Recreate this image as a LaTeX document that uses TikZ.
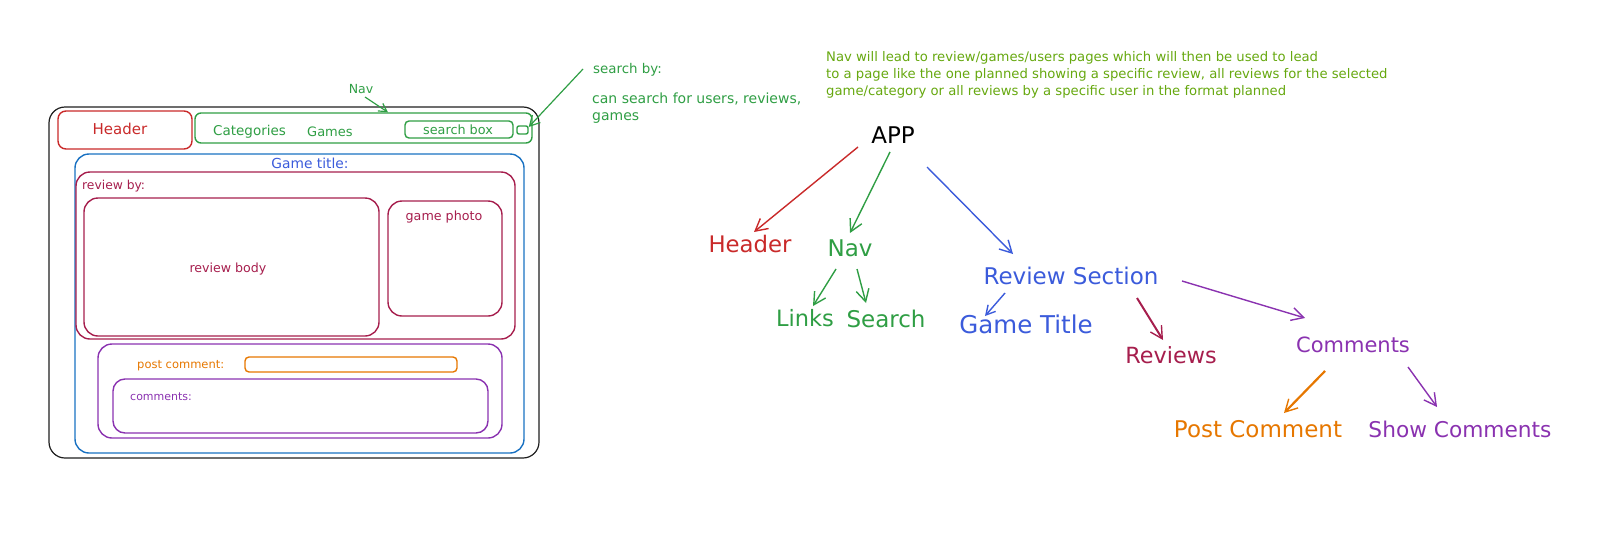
\documentclass[tikz,border=0pt]{standalone}
\usepackage{fontspec}
\setmainfont{DejaVu Sans}
\usetikzlibrary{arrows.meta,calc}
\definecolor{xred}{HTML}{C92A2A}
\definecolor{xgreen}{HTML}{2F9E44}
\definecolor{xlime}{HTML}{66A80F}
\definecolor{xblue}{HTML}{1971C2}
\definecolor{xindigo}{HTML}{3B5BDB}
\definecolor{xcrimson}{HTML}{A61E4D}
\definecolor{xpurple}{HTML}{8A32B0}
\definecolor{xorange}{HTML}{E67700}
\definecolor{xdark}{HTML}{1E1E1E}
\tikzset{
  wbox/.style={draw=#1, line width=1.4pt, inner sep=0pt, rounded corners=13pt},
  lbl/.style={inner sep=0pt, anchor=base, text=#1},
  lblw/.style={inner sep=0pt, anchor=base west, text=#1},
  arr/.style={draw=#1, line width=1.4pt, -{Straight Barb[length=12pt,width=13pt,line width=1.4pt]}},
  fs/.style={font=\fontsize{#1}{#1}\selectfont}
}
\begin{document}
\begin{tikzpicture}[x=1pt,y=-1pt]
\useasboundingbox (0,0) rectangle (1605,533);
% ---------- wireframe ----------
\node[wbox=xdark, line width=1.2pt, rounded corners=16pt, minimum width=490, minimum height=351] (outer) at (294,282.5) {};
\node[wbox=xred, rounded corners=8pt, minimum width=134, minimum height=38] (hdrbox) at (125,130) {};
\node[wbox=xgreen, rounded corners=6pt, minimum width=337, minimum height=30] (navbox) at (363.5,128) {};
\node[wbox=xgreen, rounded corners=4pt, minimum width=108, minimum height=17] (sbox) at (459,129.5) {};
\node[wbox=xgreen, rounded corners=2pt, minimum width=11, minimum height=8] (sq) at (522.5,130) {};
\node[wbox=xblue, rounded corners=14pt, minimum width=449, minimum height=299] (gamebox) at (299.5,303.5) {};
\node[wbox=xcrimson, rounded corners=14pt, minimum width=439, minimum height=167] (revbox) at (295.5,255.5) {};
\node[wbox=xcrimson, rounded corners=14pt, minimum width=295, minimum height=138] (bodybox) at (231.5,267) {};
\node[wbox=xcrimson, rounded corners=14pt, minimum width=114, minimum height=115] (photobox) at (445,258.5) {};
\node[wbox=xpurple, rounded corners=14pt, minimum width=404, minimum height=94] (combox) at (300,391) {};
\node[wbox=xorange, rounded corners=4pt, minimum width=212, minimum height=15] (inputbox) at (351,364.5) {};
\node[wbox=xpurple, rounded corners=12pt, minimum width=375, minimum height=54] (listbox) at (300.5,406) {};

\node[lbl=xred, fs=15] (hdrtxt) at (120,134) {Header};
\node[lblw=xgreen, fs=13.5] (cattxt) at (213,135.5) {Categories};
\node[lblw=xgreen, fs=13] (gamestxt) at (307,136) {Games};
\node[lbl=xgreen, fs=12.8] (stxt) at (458,134.5) {search box};
\node[lbl=xindigo, fs=13.8] (titletxt) at (310,168) {Game title:};
\node[lblw=xcrimson, fs=12.3] (bytxt) at (82,189) {review by:};
\node[lbl=xcrimson, fs=12.6] (bodytxt) at (228,272) {review body};
\node[lbl=xcrimson, fs=12.7] (phototxt) at (444,220) {game photo};
\node[lblw=xorange, fs=11.5] (posttxt) at (137,368) {post comment:};
\node[lblw=xpurple, fs=11] (comtxt) at (130,400) {comments:};
\node[lbl=xgreen, fs=12.5] (navlbl) at (361,93) {Nav};
\draw[xgreen, line width=1.2pt, -{Straight Barb[length=8pt,width=9pt,line width=1.2pt]}]
  ($(navlbl.base)+(4,4)$) -- ($(navbox.north)+(24.5,0)$);

% search note
\node[lblw=xgreen, fs=13.4] (searchby) at (593,73) {search by:};
\node[lblw=xgreen, fs=14] (canS) at (592,103) {can search for users, reviews,};
\node[lblw=xgreen, fs=14] (canG) at (592,120) {games};
\draw[xgreen, line width=1.2pt, -{Straight Barb[length=10pt,width=11pt,line width=1.2pt]}]
  ($(searchby.base west)+(-10,-4)$) -- ($(sq.east)+(0,-3)$);

% big note
\node[lblw=xlime, fs=13.2] (note1) at (826,61) {Nav will lead to review/games/users pages which will then be used to lead};
\node[lblw=xlime, fs=13.2] (note2) at (826,78) {to a page like the one planned showing a specific review, all reviews for the selected};
\node[lblw=xlime, fs=13.2] (note3) at (826,95) {game/category or all reviews by a specific user in the format planned};

% ---------- tree ----------
\node[lbl=black, fs=23] (app) at (893,143) {APP};
\node[lbl=xred, fs=22.8] (header) at (750,252) {Header};
\node[lbl=xgreen, fs=23] (nav) at (850,256) {Nav};
\node[lbl=xgreen, fs=22.5] (links) at (805,326) {Links};
\node[lbl=xgreen, fs=23] (search) at (886,327) {Search};
\node[lbl=xindigo, fs=23] (revsec) at (1071,284) {Review Section};
\node[lbl=xindigo, fs=24.5] (gtitle) at (1026,333) {Game Title};
\node[lbl=xcrimson, fs=22.3] (reviews) at (1171,363) {Reviews};
\node[lbl=xpurple, fs=21] (comments) at (1353,352) {Comments};
\node[lbl=xorange, fs=23] (postc) at (1258,437) {Post Comment};
\node[lbl=xpurple, fs=21.7] (showc) at (1460,437) {Show Comments};

\draw[arr=xred] ($(app.base)+(-35,4)$) -- ($(header.base)+(4,-20)$);
\draw[arr=xgreen] ($(app.base)+(-3,9)$) -- ($(nav.base)+(0,-23)$);
\draw[arr=xindigo] ($(app.base)+(34,24)$) -- ($(revsec.base)+(-58,-30)$);
\draw[arr=xgreen] ($(nav.base)+(-14,13)$) -- ($(links.base)+(8,-20)$);
\draw[arr=xgreen] ($(nav.base)+(7,13)$) -- ($(search.base)+(-20,-24)$);
\draw[arr=xindigo, -{Straight Barb[length=9pt,width=10pt,line width=1.4pt]}] ($(revsec.base)+(-66,9)$) -- ($(gtitle.base)+(-41,-17)$);
\draw[arr=xcrimson, line width=2pt] ($(revsec.base)+(66,14)$) -- ($(reviews.base)+(-8,-23)$);
\draw[arr=xpurple] ($(revsec.base)+(111,-3)$) -- ($(comments.base)+(-48,-34)$);
\draw[arr=xorange, line width=2.2pt] ($(comments.base)+(-28,19)$) -- ($(postc.base)+(26,-24)$);
\draw[arr=xpurple] ($(comments.base)+(55,15)$) -- ($(showc.base)+(-23,-30)$);
\end{tikzpicture}
\end{document}
